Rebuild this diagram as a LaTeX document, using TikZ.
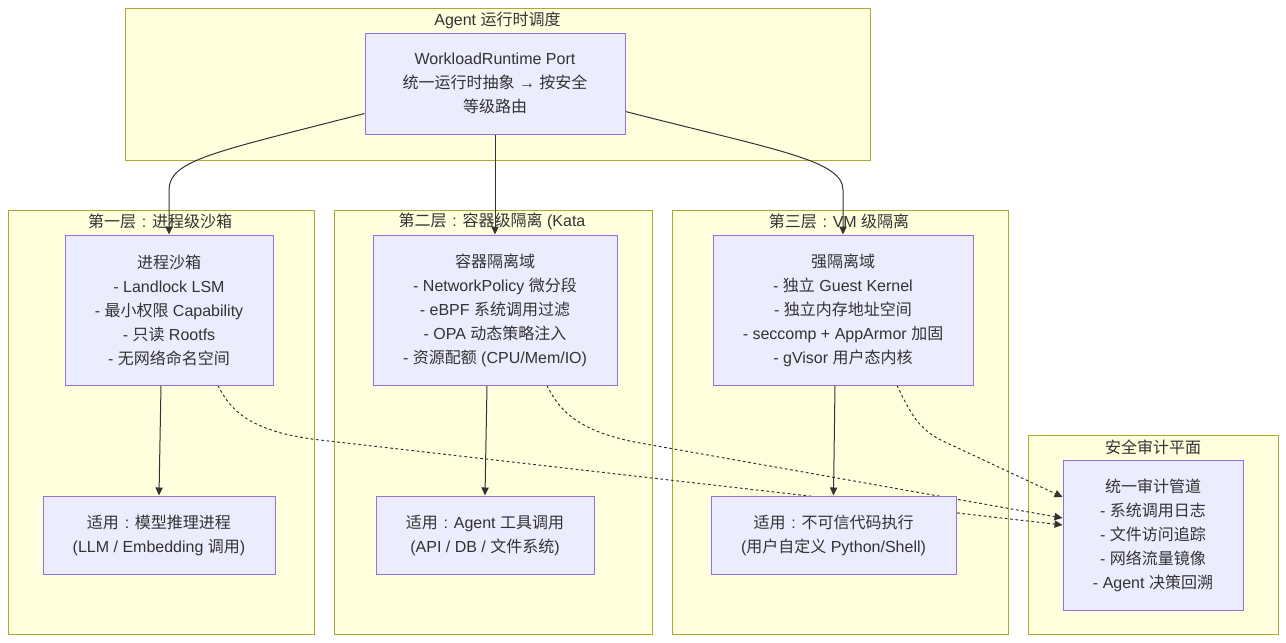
\documentclass[tikz,border=0pt]{standalone}
\usepackage{fontspec}
\setmainfont{Liberation Sans}
\newfontfamily\cjkfont{Noto Sans CJK SC}
\newfontfamily\latinfont{Liberation Sans}
\usetikzlibrary{arrows.meta,calc}
\XeTeXinterchartokenstate=1
\newXeTeXintercharclass\CJKcls
\makeatletter
\count@="4E00
\loop
  \XeTeXcharclass\count@=\CJKcls
  \ifnum\count@<"9FFF \advance\count@ by 1
\repeat
\count@="3000
\loop
  \XeTeXcharclass\count@=\CJKcls
  \ifnum\count@<"303F \advance\count@ by 1
\repeat
\count@="FF00
\loop
  \XeTeXcharclass\count@=\CJKcls
  \ifnum\count@<"FFEF \advance\count@ by 1
\repeat
\makeatother
\XeTeXinterchartoks 0 \CJKcls = {\cjkfont}
\XeTeXinterchartoks 4095 \CJKcls = {\cjkfont}
\XeTeXinterchartoks \CJKcls 0 = {\latinfont}
\XeTeXinterchartoks \CJKcls 4095 = {\latinfont}
\newcommand{\zcolon}{\hbox to 1em{\hss\latinfont :\hss}}
\definecolor{txt}{HTML}{333333}
\definecolor{clf}{HTML}{FFFFDE}
\definecolor{clb}{HTML}{AAAA33}
\definecolor{nf}{HTML}{ECECFF}
\definecolor{nb}{HTML}{9370DB}
\definecolor{ln}{HTML}{333333}
\pgfdeclarelayer{bg}
\pgfdeclarelayer{edges}
\pgfsetlayers{bg,edges,main}
\begin{document}
\begin{tikzpicture}[x=0.75pt,y=-0.75pt,
  every node/.style={text=txt, font=\fontsize{12}{18}\selectfont},
  cluster/.style={draw=clb, fill=clf, line width=0.75pt},
  box/.style={draw=nb, fill=nf, line width=0.75pt, inner sep=0pt, align=center},
  title/.style={inner sep=0pt, anchor=center},
  link/.style={draw=ln, line width=0.75pt, -{Triangle[length=6pt,width=5.5pt]}},
  dlink/.style={link, dash pattern=on 2pt off 2pt}]
\useasboundingbox (0,0) rectangle (1286,643);

\begin{pgfonlayer}{bg}
\draw[cluster] (125,8) rectangle (870,160);
\draw[cluster] (8,210) rectangle (314,634);
\draw[cluster] (334,210) rectangle (652,634);
\draw[cluster] (672,210) rectangle (1008,634);
\draw[cluster] (1028,435) rectangle (1278,634);
\end{pgfonlayer}

\node[title] (t0) at (497.5,20) {Agent 运行时调度};
\node[title] (t1) at (160,221) {第一层\zcolon 进程级沙箱};
\node[title] (t2) at (492,221) {第二层\zcolon 容器级隔离 (Kata};
\node[title] (t3) at (839,221) {第三层\zcolon VM 级隔离};
\node[title] (t4) at (1153,447) {安全审计平面};

\node[box, minimum width=195pt, minimum height=75.75pt] (wr) at (495,83.5)
  {WorkloadRuntime Port\\统一运行时抽象 → 按安全\\等级路由};
\node[box, minimum width=156pt, minimum height=112.5pt] (p1) at (169,310)
  {进程沙箱\\- Landlock LSM\\- 最小权限 Capability\\- 只读 Rootfs\\- 无网络命名空间};
\node[box, minimum width=183pt, minimum height=112.5pt] (c1) at (495,310)
  {容器隔离域\\- NetworkPolicy 微分段\\- eBPF 系统调用过滤\\- OPA 动态策略注入\\- 资源配额 (CPU/Mem/IO)};
\node[box, minimum width=195pt, minimum height=112.5pt] (v1) at (843,310)
  {强隔离域\\- 独立 Guest Kernel\\- 独立内存地址空间\\- seccomp + AppArmor 加固\\- gVisor 用户态内核};
\node[box, minimum width=135pt, minimum height=112.5pt] (au) at (1153,535)
  {统一审计管道\\- 系统调用日志\\- 文件访问追踪\\- 网络流量镜像\\- Agent 决策回溯};
\node[box, minimum width=174pt, minimum height=58.5pt] (u1) at (159,535)
  {适用\zcolon 模型推理进程\\(LLM / Embedding 调用)};
\node[box, minimum width=163.5pt, minimum height=58.5pt] (u2) at (485,535)
  {适用\zcolon Agent 工具调用\\(API / DB / 文件系统)};
\node[box, minimum width=183.75pt, minimum height=58.5pt] (u3) at (833.5,535)
  {适用\zcolon 不可信代码执行\\(用户自定义 Python/Shell)};

\begin{pgfonlayer}{edges}
\draw[link] ($(wr.west)+(0,30)$) .. controls (215,152) and (169,160) .. (169,190) -- (p1.north);
\draw[link] (wr.south) -- (c1.north);
\draw[link] ($(wr.east)+(0,28)$) .. controls (775,150) and (843,160) .. (843,190) -- (v1.north);
\draw[link] ($(p1.south)+(-8,0)$) -- (u1.north);
\draw[link] ($(c1.south)+(-8,0)$) -- (u2.north);
\draw[link] ($(v1.south)+(-8,0)$) -- (u3.north);
\draw[dlink] ($(p1.south)+(49,0)$) .. controls (230,410) and (250,432) .. (320,440) -- ($(au.west)+(0,-10)$);
\draw[dlink] ($(c1.south)+(52,0)$) .. controls (560,412) and (580,432) .. (640,443) -- ($(au.west)+(0,-17)$);
\draw[dlink] ($(v1.south)+(54,0)$) .. controls (910,412) and (918,430) .. (945,442) -- ($(au.west)+(0,-38)$);
\end{pgfonlayer}
\end{tikzpicture}
\end{document}
